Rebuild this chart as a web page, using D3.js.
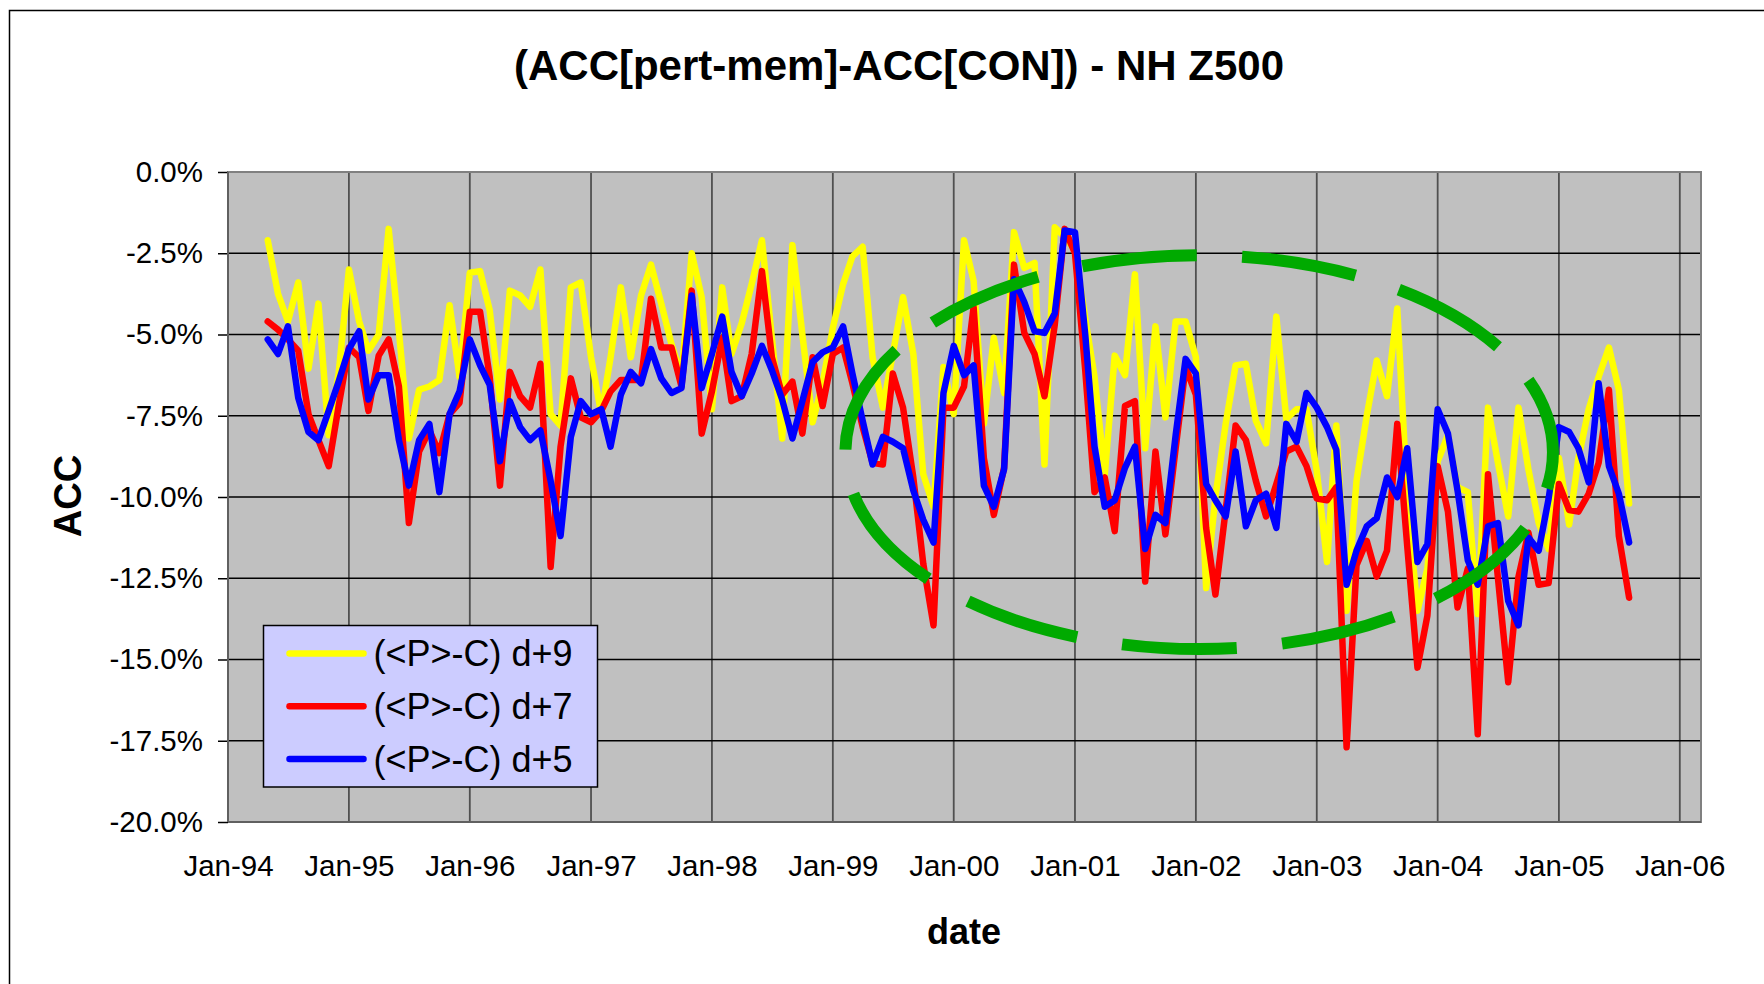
<!DOCTYPE html>
<html>
<head>
<meta charset="utf-8">
<script src="https://cdn.jsdelivr.net/npm/d3@7/dist/d3.min.js"></script>
<style>
  body { margin: 0; background: #fff; }
  text { font-family: "Liberation Sans", Arial, sans-serif; }
</style>
</head>
<body>
<svg id="chart"></svg>
<script>
// monthly values (%), May 1994 .. Aug 2005
const firstMonth = new Date(1994, 4, 1);
const lastMonth = new Date(2005, 7, 1);

const d9 = [
  -2.1, -3.75, -4.6, -3.4, -6.05, -4.05, -8.1, -6.2,
  -3.0, -4.6, -5.5, -5.0, -1.75, -4.9, -8.2, -6.7, -6.6, -6.4, -4.1, -6.3,
  -3.1, -3.05, -4.25, -7.0, -3.65, -3.8, -4.15, -3.0, -7.45, -7.8, -3.55, -3.4,
  -5.7, -7.45, -5.7, -3.55, -5.7, -3.8, -2.85, -4.05, -5.3, -6.3, -2.5, -3.85,
  -7.3, -3.55, -5.6, -4.65, -3.45, -2.1, -5.1, -8.2, -2.25, -5.0, -7.7, -6.5,
  -4.8, -3.45, -2.6, -2.3, -5.7, -7.25, -5.6, -3.85, -5.6, -9.3, -10.3, -6.0,
  -7.45, -2.1, -3.35, -7.75, -5.1, -6.8, -1.85, -2.95, -2.8, -9.0, -1.7, -2.0,
  -2.4, -4.5, -6.3, -9.3, -5.65, -6.25, -3.15, -8.5, -4.75, -7.55, -4.6, -4.6,
  -5.7, -12.8, -10.0, -7.75, -5.95, -5.9, -7.65, -8.35, -4.45, -7.6, -7.3, -7.3,
  -9.2, -12.0, -7.8, -13.5, -9.5, -7.5, -5.8, -6.9, -4.2, -10.0, -13.5, -12.2,
  -8.9, -8.1, -9.7, -9.85, -13.6, -7.25, -8.95, -10.6, -7.25, -9.15, -10.8, -11.6,
  -8.8, -10.85, -8.8, -7.3, -6.3, -5.4, -6.7, -10.2
];

const d7 = [
  -4.6, -4.85, -5.15, -5.5, -7.45, -8.25, -9.05, -7.2,
  -5.4, -5.7, -7.35, -5.65, -5.15, -6.6, -10.8, -8.6, -7.95, -8.65, -7.45, -7.1,
  -4.3, -4.3, -6.3, -9.65, -6.15, -6.9, -7.25, -5.9, -12.15, -8.45, -6.35, -7.55,
  -7.7, -7.35, -6.75, -6.4, -6.4, -6.4, -3.9, -5.4, -5.4, -6.6, -3.65, -8.05,
  -6.75, -5.1, -7.05, -6.9, -5.6, -3.05, -5.7, -6.85, -6.45, -8.05, -5.7, -7.2,
  -5.6, -5.4, -6.5, -7.85, -8.95, -9.0, -6.2, -7.25, -9.4, -12.05, -13.95, -7.25,
  -7.25, -6.6, -4.15, -8.8, -10.55, -9.1, -2.85, -4.95, -5.6, -6.9, -4.7, -1.75,
  -2.5, -6.1, -9.85, -9.4, -11.05, -7.2, -7.05, -12.6, -8.6, -11.15, -8.5, -6.0,
  -6.85, -10.95, -13.0, -10.4, -7.8, -8.25, -9.5, -10.6, -9.6, -8.6, -8.45, -9.05,
  -10.05, -10.1, -9.7, -17.7, -12.1, -11.35, -12.45, -11.65, -7.75, -11.5, -15.25, -13.65,
  -9.05, -10.45, -13.4, -12.2, -17.3, -9.3, -12.5, -15.7, -12.45, -11.1, -12.7, -12.65,
  -9.6, -10.4, -10.45, -9.9, -8.95, -6.7, -11.2, -13.1
];

const d5 = [
  -5.15, -5.6, -4.75, -6.95, -8.0, -8.25, -7.35, -6.45,
  -5.45, -4.9, -7.0, -6.25, -6.25, -8.25, -9.65, -8.25, -7.75, -9.85, -7.45, -6.75,
  -5.15, -5.95, -6.55, -8.9, -7.05, -7.85, -8.25, -7.95, -9.5, -11.2, -8.15, -7.05,
  -7.45, -7.3, -8.45, -6.85, -6.15, -6.5, -5.45, -6.35, -6.8, -6.65, -3.8, -6.65,
  -5.6, -4.45, -6.15, -6.9, -6.2, -5.35, -6.1, -7.0, -8.2, -7.05, -5.85, -5.55,
  -5.4, -4.75, -6.2, -7.65, -9.0, -8.15, -8.3, -8.5, -9.8, -10.7, -11.4, -6.8,
  -5.35, -6.25, -5.95, -9.65, -10.3, -9.15, -3.3, -4.0, -4.9, -4.95, -4.35, -1.8,
  -1.85, -5.0, -8.45, -10.3, -10.1, -9.1, -8.45, -11.6, -10.55, -10.8, -8.1, -5.75,
  -6.2, -9.6, -10.1, -10.6, -8.6, -10.9, -10.1, -9.9, -10.95, -7.75, -8.3, -6.8,
  -7.25, -7.85, -8.55, -12.7, -11.65, -10.9, -10.65, -9.4, -10.0, -8.5, -12.0, -11.45,
  -7.3, -8.05, -9.8, -11.95, -12.7, -10.9, -10.8, -13.2, -13.95, -11.25, -11.65, -10.05,
  -7.85, -8.0, -8.5, -9.55, -6.5, -9.05, -9.9, -11.4
];

const seriesNames = ["(<P>-C) d+9", "(<P>-C) d+7", "(<P>-C) d+5"];
const seriesColors = ["#ffff00", "#ff0000", "#0000ff"];
const yTicks = [0, -2.5, -5, -7.5, -10, -12.5, -15, -17.5, -20];
const xTickYears = d3.range(1994, 2007);

// hand-drawn dashed ellipse (centre date/value, half-width in months, half-height in %)
const ring = {date: new Date(2002, 0, 11), value: -8.62, months: 35.1, pct: 6.06};

const margin = {top: 172, left: 228},
      width = 1473,
      height = 650;

const svg = d3.select("#chart")
    .attr("width", 1764)
    .attr("height", 984);

// chart area border
svg.append("rect")
    .attr("x", 9.5).attr("y", 10.5)
    .attr("width", 1800).attr("height", 1000)
    .attr("fill", "#fff")
    .attr("stroke", "#000")
    .attr("stroke-width", 1.5);

const g = svg.append("g")
    .attr("transform", `translate(${margin.left},${margin.top})`);

const months = d3.timeMonth.range(firstMonth, d3.timeMonth.offset(lastMonth, 1));

const x = d3.scaleTime()
    .domain([new Date(1994, 0, 1), new Date(2006, 2, 6)])
    .range([0, width]);

const y = d3.scaleLinear()
    .domain([-20, 0])
    .range([height, 0]);

g.append("rect")
    .attr("width", width)
    .attr("height", height)
    .attr("fill", "#c0c0c0");

// gridlines
const xTicks = xTickYears.map(yr => new Date(yr, 0, 1));
g.selectAll(".vgrid")
    .data(xTicks.slice(1))
    .enter().append("line")
    .attr("x1", d => x(d)).attr("x2", d => x(d))
    .attr("y1", 0).attr("y2", height)
    .attr("stroke", "#505050")
    .attr("stroke-width", 1.8);

g.selectAll(".hgrid")
    .data(yTicks.slice(1, -1))
    .enter().append("line")
    .attr("x1", 0).attr("x2", width)
    .attr("y1", d => y(d)).attr("y2", d => y(d))
    .attr("stroke", "#000")
    .attr("stroke-width", 1.5);

g.append("rect")
    .attr("width", width)
    .attr("height", height)
    .attr("fill", "none")
    .attr("stroke", "#808080")
    .attr("stroke-width", 2);

// axes
const yAxis = g.append("g")
    .call(d3.axisLeft(y)
        .tickValues(yTicks)
        .tickFormat(d => d.toFixed(1) + "%")
        .tickSize(10)
        .tickPadding(15));
yAxis.select(".domain").remove();
yAxis.selectAll("line").attr("stroke", "#000").attr("stroke-width", 1.5);
yAxis.selectAll("text")
    .style("font-family", "'Liberation Sans', Arial, sans-serif")
    .style("font-size", "29.5px")
    .attr("fill", "#000");

const xAxis = g.append("g")
    .attr("transform", `translate(0, ${height})`)
    .call(d3.axisBottom(x)
        .tickValues(xTicks)
        .tickFormat(d3.timeFormat("%b-%y"))
        .tickSize(0)
        .tickPadding(33));
xAxis.select(".domain").remove();
xAxis.selectAll("text")
    .style("font-family", "'Liberation Sans', Arial, sans-serif")
    .style("font-size", "29.5px")
    .attr("fill", "#000");

g.append("line")
    .attr("x1", 0).attr("x2", 0)
    .attr("y1", 0).attr("y2", height)
    .attr("stroke", "#606060").attr("stroke-width", 2);
g.append("line")
    .attr("x1", 0).attr("x2", width)
    .attr("y1", height).attr("y2", height)
    .attr("stroke", "#606060").attr("stroke-width", 2);

// series lines
const line = d3.line()
    .x((d, i) => x(months[i]))
    .y(d => y(d));

[d9, d7, d5].forEach((vals, k) => {
    g.append("path")
        .datum(vals)
        .attr("fill", "none")
        .attr("stroke", seriesColors[k])
        .attr("stroke-width", 6.5)
        .attr("stroke-linejoin", "round")
        .attr("stroke-linecap", "round")
        .attr("d", line);
});

// green dashed ellipse
g.append("ellipse")
    .attr("cx", x(ring.date))
    .attr("cy", y(ring.value))
    .attr("rx", x(d3.timeDay.offset(ring.date, ring.months * 30.44)) - x(ring.date))
    .attr("ry", y(ring.value - ring.pct) - y(ring.value))
    .attr("fill", "none")
    .attr("stroke", "#00aa00")
    .attr("stroke-width", 12)
    .attr("stroke-dasharray", "115 45.5")
    .attr("stroke-dashoffset", 78);

// legend
const legend = svg.append("g").attr("transform", "translate(263.5,625.5)");
legend.append("rect")
    .attr("width", 334)
    .attr("height", 161.5)
    .attr("fill", "#ccccff")
    .attr("stroke", "#000")
    .attr("stroke-width", 1.5);

seriesNames.forEach((name, i) => {
    const ly = 28 + i * 52.8;
    legend.append("line")
        .attr("x1", 26).attr("x2", 100)
        .attr("y1", ly).attr("y2", ly)
        .attr("stroke", seriesColors[i])
        .attr("stroke-width", 6.5)
        .attr("stroke-linecap", "round");
    legend.append("text")
        .attr("x", 110)
        .attr("y", ly + 12.5)
        .style("font-size", "36px")
        .text(name);
});

// titles
svg.append("text")
    .attr("x", 899)
    .attr("y", 80)
    .style("text-anchor", "middle")
    .style("font-size", "42px")
    .style("font-weight", "bold")
    .text("(ACC[pert-mem]-ACC[CON]) - NH Z500");

svg.append("text")
    .attr("transform", "translate(81,496) rotate(-90)")
    .style("text-anchor", "middle")
    .style("font-size", "38px")
    .style("font-weight", "bold")
    .text("ACC");

svg.append("text")
    .attr("x", 964)
    .attr("y", 944)
    .style("text-anchor", "middle")
    .style("font-size", "36px")
    .style("font-weight", "bold")
    .text("date");
</script>
</body>
</html>
